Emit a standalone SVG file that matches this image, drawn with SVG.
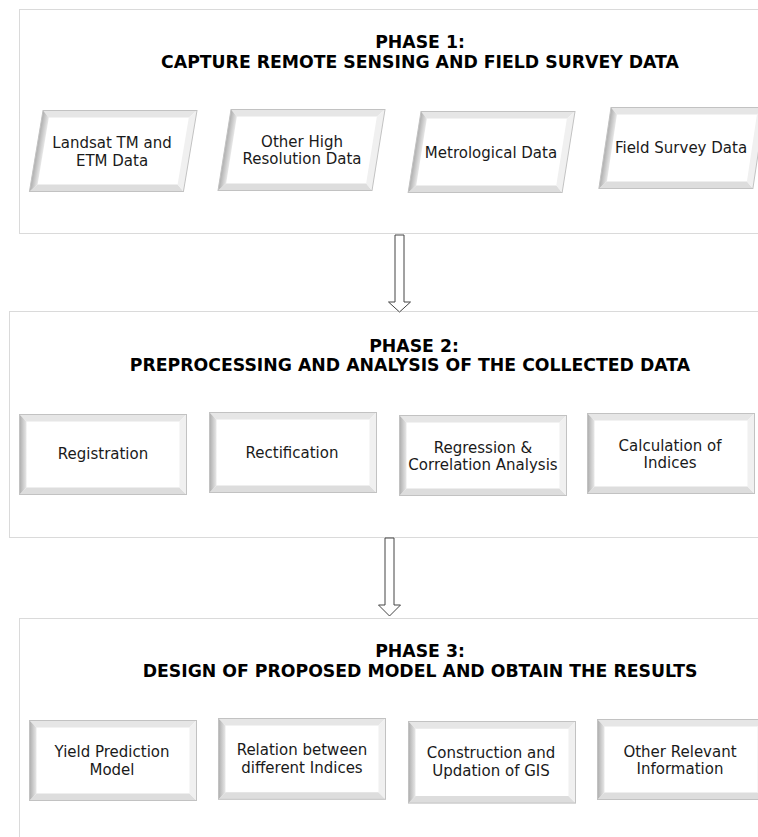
<svg xmlns="http://www.w3.org/2000/svg" width="758" height="837" viewBox="0 0 758 837">
<style>
.phase{fill:#fff;stroke:#b4b4b4;stroke-width:1;stroke-dasharray:1 1}
.hd{font-family:"DejaVu Sans",Verdana,sans-serif;font-weight:bold;font-size:17.3px;fill:#000;text-anchor:middle}
.lb{font-family:"DejaVu Sans",Verdana,sans-serif;font-size:15px;fill:#1a1a1a;text-anchor:middle}
.arrow{fill:#fff;stroke:#444;stroke-width:1}
</style>
<defs>
<linearGradient id="lg" x1="0" y1="0" x2="1" y2="0">
<stop offset="0" stop-color="#adadad"/>
<stop offset="1" stop-color="#e8e8e8"/>
</linearGradient>
<g id="bev">
<rect x="0" y="0" width="167" height="80" fill="#fff"/>
<polygon points="0,0 167,0 160,7 7,7" fill="#e6e6e6"/>
<polygon points="0,80 167,80 160,73 7,73" fill="#dddddd"/>
<polygon points="167,0 167,80 160,73 160,7" fill="#f0f0f0"/>
<polygon points="0,0 7,7 7,73 0,80" fill="url(#lg)"/>
<rect x="0" y="0" width="167" height="80" fill="none" stroke="#c2c2c2"/>
</g>
<g id="pbev">
<rect x="0" y="0" width="154" height="81" fill="#fff"/>
<polygon points="0,0 154,0 147,7 7,7" fill="#e6e6e6"/>
<polygon points="0,81 154,81 147,74 7,74" fill="#dddddd"/>
<polygon points="154,0 154,81 147,74 147,7" fill="#f0f0f0"/>
<polygon points="0,0 7,7 7,74 0,81" fill="url(#lg)"/>
<rect x="0" y="0" width="154" height="81" fill="none" stroke="#c2c2c2"/>
</g>
</defs>

<g id="phase1">
<rect class="phase" x="19.5" y="9.5" width="760" height="224"/>
<text class="hd" x="420" y="48">PHASE 1:</text>
<text class="hd" x="420" y="68">CAPTURE REMOTE SENSING AND FIELD SURVEY DATA</text>
</g>
<g id="phase2">
<rect class="phase" x="9.5" y="311.5" width="770" height="226"/>
<text class="hd" x="414" y="352">PHASE 2:</text>
<text class="hd" x="410" y="371">PREPROCESSING AND ANALYSIS OF THE COLLECTED DATA</text>
</g>
<g id="phase3">
<rect class="phase" x="19.5" y="618.5" width="760" height="240"/>
<text class="hd" x="420" y="657">PHASE 3:</text>
<text class="hd" x="420" y="677">DESIGN OF PROPOSED MODEL AND OBTAIN THE RESULTS</text>
</g>

<g id="connectors">
<path class="arrow" d="M395,235 H404 V302 H410.5 L399.5,312 L388.5,302 H395 Z"/>
<path class="arrow" d="M385,538 H394 V605 H400.5 L389.5,616 L378.5,605 H385 Z"/>
</g>

<g id="n-landsat">
<use href="#pbev" transform="translate(43,110.5) skewX(-9.5)"/>
<text class="lb" x="112" y="148">Landsat TM and</text>
<text class="lb" x="112" y="166">ETM Data</text>
</g>
<g id="n-otherhigh">
<use href="#pbev" transform="translate(231,109.5) skewX(-9.1)"/>
<text class="lb" x="302" y="147">Other High</text>
<text class="lb" x="302" y="164">Resolution Data</text>
</g>
<g id="n-metro">
<use href="#pbev" transform="translate(421,111.5) skewX(-9)"/>
<text class="lb" x="491" y="158">Metrological Data</text>
</g>
<g id="n-field">
<use href="#pbev" transform="translate(611,107.5) skewX(-8.5)"/>
<text class="lb" x="681" y="153">Field Survey Data</text>
</g>

<g id="n-registration">
<use href="#bev" transform="translate(19.5,414.5)"/>
<text class="lb" x="103" y="459">Registration</text>
</g>
<g id="n-rectification">
<use href="#bev" transform="translate(209.5,412.5)"/>
<text class="lb" x="292" y="458">Rectification</text>
</g>
<g id="n-regression">
<use href="#bev" transform="translate(399.5,415.5)"/>
<text class="lb" x="483" y="453">Regression &amp;</text>
<text class="lb" x="483" y="470">Correlation Analysis</text>
</g>
<g id="n-calculation">
<use href="#bev" transform="translate(587.5,413.5)"/>
<text class="lb" x="670" y="451">Calculation of</text>
<text class="lb" x="670" y="468">Indices</text>
</g>

<g id="n-yield">
<use href="#bev" transform="translate(29.5,720.5)"/>
<text class="lb" x="112" y="757">Yield Prediction</text>
<text class="lb" x="112" y="775">Model</text>
</g>
<g id="n-relation">
<use href="#bev" transform="translate(218.5,718.5) scale(1,1.01)"/>
<text class="lb" x="302" y="755">Relation between</text>
<text class="lb" x="302" y="773">different Indices</text>
</g>
<g id="n-construction">
<use href="#bev" transform="translate(408.5,721.5) scale(1,1.02)"/>
<text class="lb" x="491" y="758">Construction and</text>
<text class="lb" x="491" y="776">Updation of GIS</text>
</g>
<g id="n-otherrel">
<use href="#bev" transform="translate(597.5,719.5)"/>
<text class="lb" x="680" y="757">Other Relevant</text>
<text class="lb" x="680" y="774">Information</text>
</g>
</svg>
